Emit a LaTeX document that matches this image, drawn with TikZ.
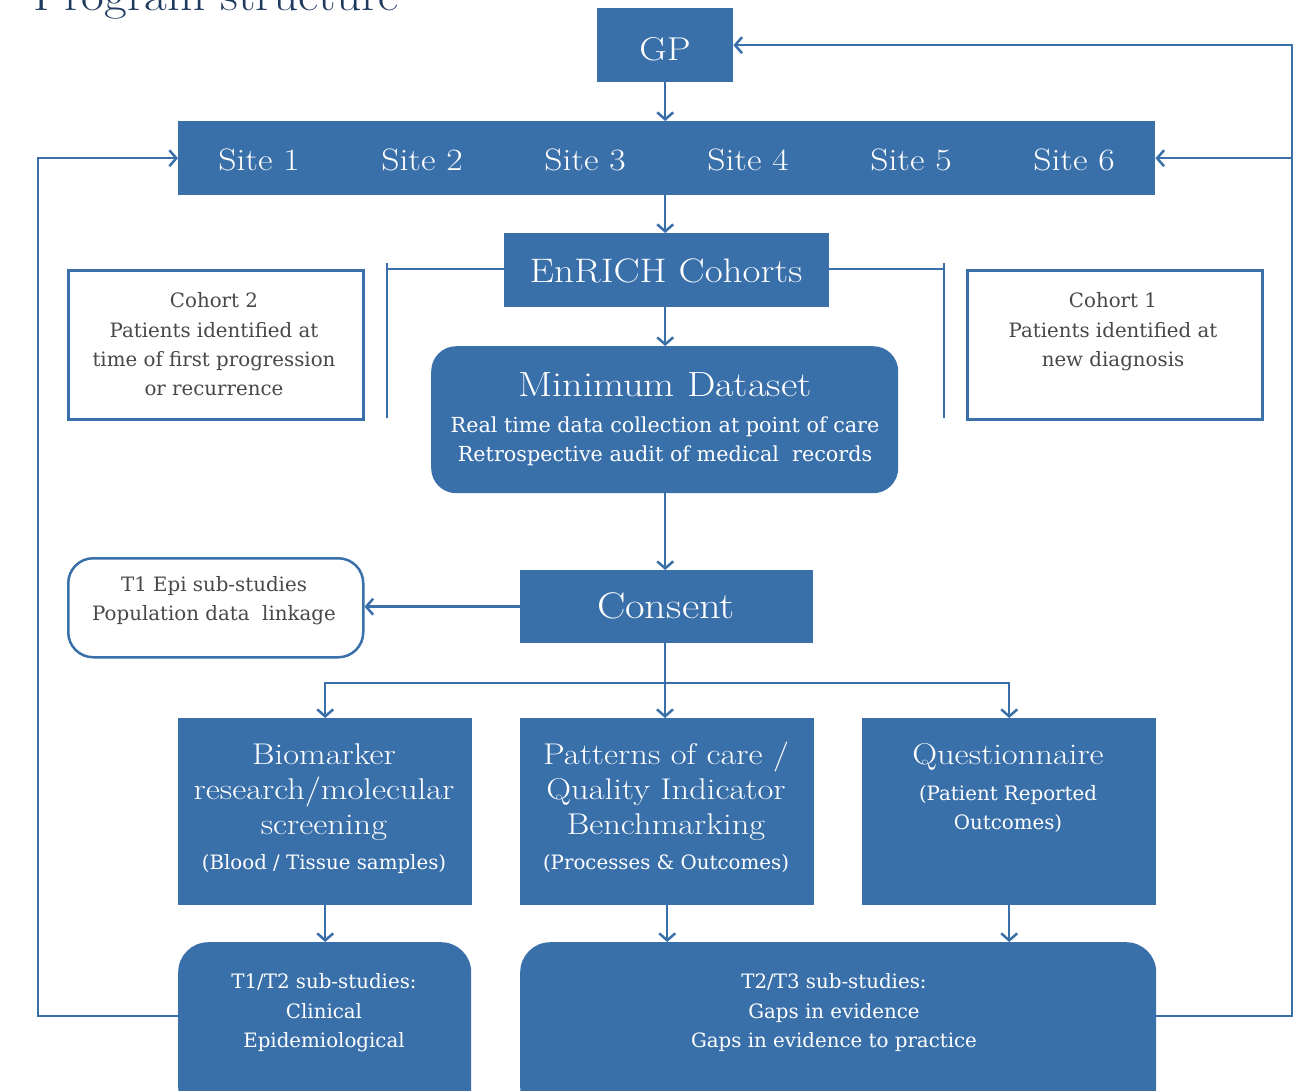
\documentclass[tikz,border=0pt]{standalone}
\usepackage{fontspec}
\newfontfamily\widerm[FakeStretch=1.15]{Latin Modern Roman}
\newfontfamily\slab{DejaVu Serif}
\usetikzlibrary{arrows.meta}
\definecolor{eb}{RGB}{58,112,170}
\definecolor{tg}{RGB}{72,72,72}
\definecolor{navy}{RGB}{30,58,95}
\begin{document}
\begin{tikzpicture}[x=1pt,y=-1pt,
  box/.style={fill=eb, draw=none, inner sep=0pt, anchor=north west},
  wbox/.style={draw=eb, line width=2.5pt, fill=white, inner sep=0pt, anchor=north west},
  ln/.style={draw=eb, line width=2.5pt},
  arr/.style={ln, -{Straight Barb[length=7pt,width=16pt]}},
  big/.style={text=white, anchor=base, inner sep=0pt, font=\widerm\fontsize{34}{40}\selectfont},
  mid/.style={text=white, anchor=base, inner sep=0pt, font=\widerm\fontsize{30}{35}\selectfont},
  sm/.style={text=white, anchor=base, inner sep=0pt, font=\slab\fontsize{19.8}{25}\selectfont},
  gsm/.style={sm, text=tg},
]
\useasboundingbox (0,0) rectangle (1300,1090);
\clip (0,0) rectangle (1300,1090);

% title
\node[anchor=base west, text=navy, font=\widerm\fontsize{43}{50}\selectfont, inner sep=0pt] (title) at (33,10) {Program structure};

% boxes
\node[box, minimum width=136pt, minimum height=74pt] (gp) at (597,8) {};
\node[box, minimum width=977pt, minimum height=74pt] (sites) at (178,121) {};
\node[box, minimum width=325pt, minimum height=74pt] (enrich) at (504,233) {};
\node[wbox, minimum width=295pt, minimum height=149pt] (coh2) at (67,269) {};
\node[wbox, minimum width=295pt, minimum height=149pt] (coh1) at (966,269) {};
\node[box, rounded corners=25pt, minimum width=467pt, minimum height=147pt] (mds) at (431,346) {};
\node[box, minimum width=293pt, minimum height=73pt] (consent) at (520,570) {};
\node[wbox, rounded corners=25pt, minimum width=295pt, minimum height=99pt] (epi) at (67,557) {};
\node[box, minimum width=294pt, minimum height=187pt] (bio) at (178,718) {};
\node[box, minimum width=294pt, minimum height=187pt] (pat) at (520,718) {};
\node[box, minimum width=294pt, minimum height=187pt] (que) at (862,718) {};
\node[box, rounded corners=30pt, minimum width=293pt, minimum height=175pt] (t12) at (178,942) {};
\node[box, rounded corners=30pt, minimum width=636pt, minimum height=175pt] (t23) at (520,942) {};

% texts
\node[big, font=\widerm\fontsize{33}{40}\selectfont] (gpt) at (665,60) {GP};
\node[big, font=\widerm\fontsize{31}{40}\selectfont] (s1) at (259,170) {Site 1};
\node[big, font=\widerm\fontsize{31}{40}\selectfont] (s2) at (422,170) {Site 2};
\node[big, font=\widerm\fontsize{31}{40}\selectfont] (s3) at (585,170) {Site 3};
\node[big, font=\widerm\fontsize{31}{40}\selectfont] (s4) at (748,170) {Site 4};
\node[big, font=\widerm\fontsize{31}{40}\selectfont] (s5) at (911,170) {Site 5};
\node[big, font=\widerm\fontsize{31}{40}\selectfont] (s6) at (1074,170) {Site 6};
\node[big] (ent) at (666,282) {EnRICH Cohorts};

\node[gsm] (c2a) at (214,307) {Cohort 2};
\node[gsm] (c2b) at (214,337) {Patients identified at};
\node[gsm] (c2c) at (214,366) {time of first progression};
\node[gsm] (c2d) at (214,395) {or recurrence};
\node[gsm] (c1a) at (1113,307) {Cohort 1};
\node[gsm] (c1b) at (1113,337) {Patients identified at};
\node[gsm] (c1c) at (1113,366) {new diagnosis};

\node[big, font=\widerm\fontsize{35}{40}\selectfont] (mdsa) at (665,396) {Minimum Dataset};
\node[sm, font=\slab\fontsize{20.7}{25}\selectfont] (mdsb) at (665,432) {Real time data collection at point of care};
\node[sm, font=\slab\fontsize{20.7}{25}\selectfont] (mdsc) at (665,461) {Retrospective audit of medical~ records};

\node[big, font=\widerm\fontsize{37}{40}\selectfont] (cst) at (666,618) {Consent};
\node[gsm] (epa) at (214,591) {T1 Epi sub-studies};
\node[gsm] (epb) at (214,620) {Population data~ linkage};

\node[mid] (b1) at (324,764) {Biomarker};
\node[mid] (b2) at (324,799) {research/molecular};
\node[mid] (b3) at (324,834) {screening};
\node[sm] (b4) at (324,869) {(Blood / Tissue samples)};
\node[mid] (p1) at (666,764) {Patterns of care /};
\node[mid] (p2) at (666,799) {Quality Indicator};
\node[mid] (p3) at (666,834) {Benchmarking};
\node[sm] (p4) at (666,869) {(Processes \& Outcomes)};
\node[mid] (q1) at (1008,764) {Questionnaire};
\node[sm] (q2) at (1008,800) {(Patient Reported};
\node[sm] (q3) at (1008,829) {Outcomes)};

\node[sm] (ta1) at (324,988) {T1/T2 sub-studies:};
\node[sm] (ta2) at (324,1018) {Clinical};
\node[sm] (ta3) at (324,1047) {Epidemiological};
\node[sm] (tb1) at (834,988) {T2/T3 sub-studies:};
\node[sm] (tb2) at (834,1018) {Gaps in evidence};
\node[sm] (tb3) at (834,1047) {Gaps in evidence to practice};

% coordinates
\coordinate (brL) at (387,269);
\coordinate (brLt) at (387,263);
\coordinate (brLb) at (387,418);
\coordinate (brR) at (944,269);
\coordinate (brRt) at (944,263);
\coordinate (brRb) at (944,418);
\coordinate (split) at (665,683);
\coordinate (lb) at (38,1016);
\coordinate (rb) at (1292,1016);

% connectors
\draw[arr] (gp.south) -- (gp.south |- sites.north);
\draw[arr] (gp.south |- sites.south) -- (gp.south |- enrich.north);
\draw[ln] (enrich.west |- brL) -- (brL);
\draw[ln] (brLt) -- (brLb);
\draw[ln] (enrich.east |- brR) -- (brR);
\draw[ln] (brRt) -- (brRb);
\draw[arr] (gp.south |- enrich.south) -- (gp.south |- mds.north);
\draw[arr] (gp.south |- mds.south) -- (gp.south |- consent.north);
\draw[arr] (consent.west) -- (epi.east |- consent.west);
\draw[arr] (split |- consent.south) -- (split |- pat.north);
\draw[arr] (split) -| (bio.north);
\draw[arr] (split) -| (que.north);
\draw[arr] (bio.south) -- (bio.south |- t12.north);
\draw[arr] (pat.south) -- (pat.south |- t23.north);
\draw[arr] (que.south) -- (que.south |- t23.north);
\draw[arr] (t12.west |- lb) -- (lb) |- (sites.west);
\draw[arr] (t23.east |- rb) -- (rb) |- (gp.east);
\draw[arr] (rb |- sites.east) -- (sites.east);
\end{tikzpicture}
\end{document}
